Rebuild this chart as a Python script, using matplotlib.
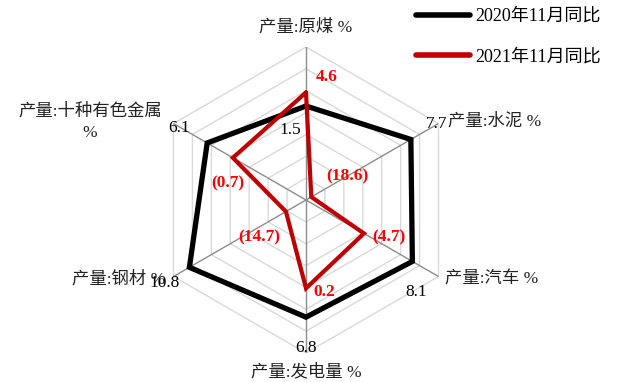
import matplotlib
matplotlib.use("Agg")
import matplotlib.pyplot as plt
import numpy as np

# ---- data (YoY growth, %)
categories = ["产量:原煤 %", "产量:水泥 %", "产量:汽车 %", "产量:发电量 %",
              "产量:钢材 %", "产量:十种有色金属\n%"]
yoy_2020 = [1.5, 7.7, 8.1, 6.8, 10.8, 6.1]
yoy_2021 = [4.6, -18.6, -4.7, 0.2, -14.7, -0.7]
series_names = ["2020年11月同比", "2021年11月同比"]
r_min, r_max, r_step = -20, 15, 5

FONT = ["Liberation Serif", "Noto Sans CJK SC"]
BLACK = "#000000"
RED_LINE = "#C00000"
RED_TEXT = "#FF0000"

W, H = 617, 382
fig = plt.figure(figsize=(W / 100, H / 100), dpi=100)
cx, cy, R = 306, 200, 153
ax = fig.add_axes([(cx - R) / W, (H - cy - R) / H, 2 * R / W, 2 * R / H], projection="polar")
ax.set_theta_zero_location("N")
ax.set_theta_direction(-1)
ax.set_ylim(r_min, r_max)
ax.grid(False)
ax.set_xticks([])
ax.set_yticks([])
ax.spines["polar"].set_visible(False)
ax.patch.set_visible(False)

n = len(categories)
angles = np.arange(n) * 2 * np.pi / n
closed = np.append(angles, angles[0])

# ---- hexagon grid + spokes
for v in range(r_min + r_step, r_max + 1, r_step):
    ax.plot(closed, [v] * (n + 1), color="#d9d9d9", lw=1.0, zorder=1)
for a in angles:
    ax.plot([a, a], [r_min, r_max], color="#8c8c8c", lw=1.0, zorder=2)

# ---- series
def close(vals):
    return list(vals) + [vals[0]]

l1, = ax.plot(closed, close(yoy_2020), color=BLACK, lw=3.8, zorder=3,
              solid_joinstyle="miter", solid_capstyle="round", label=series_names[0])
l2, = ax.plot(closed, close(yoy_2021), color=RED_LINE, lw=3.0, zorder=4,
              solid_joinstyle="miter", solid_capstyle="round", label=series_names[1])

def fmt(v):
    return f"({abs(v):.1f})" if v < 0 else f"{v:.1f}"

# label offsets in points relative to each point
off_2020 = [(-11.5, -17.3), (18.8, 11.2), (2.6, -22.0), (0, -22.2), (-18.0, -11.3), (-20.3, 10.8)]
off_2021 = [(15.1, 11.2), (25.7, 15.1), (18.1, -3.2), (13.0, -2.7), (-19.4, -18.3), (-3.5, -18.1)]

for a, v, o in zip(angles, yoy_2020, off_2020):
    ax.annotate(fmt(v), (a, v), xytext=o, textcoords="offset points", ha="center", va="center",
                fontsize=12.5, family=FONT, color=BLACK, annotation_clip=False, zorder=6)
for a, v, o in zip(angles, yoy_2021, off_2021):
    ax.annotate(fmt(v), (a, v), xytext=o, textcoords="offset points", ha="center", va="center",
                fontsize=12.5, family=FONT, color=RED_TEXT, fontweight="bold",
                annotation_clip=False, zorder=6)

# ---- category labels
cat_pos = [((0, 14.4), "center"), ((6.5, 1.5), "left"), ((5.0, -2.0), "left"),
           ((0, -13.7), "center"), ((-6.0, -2.0), "right"), ((-60.0, 1.0), "center")]
for a, lab, (o, ha) in zip(angles, categories, cat_pos):
    ax.annotate(lab, (a, r_max), xytext=o, textcoords="offset points", ha=ha, va="center",
                fontsize=12.5, family=FONT, color="#222222", annotation_clip=False,
                linespacing=1.45, zorder=5)

# ---- legend
fig.legend(handles=[l1, l2], loc="upper left", bbox_to_anchor=(416 / W, 1 - 8 / H),
           frameon=False, prop={"family": FONT, "size": 13}, handlelength=3.0,
           handletextpad=0.3, labelspacing=1.3, borderpad=0, borderaxespad=0)
for h in fig.legends[0].legend_handles:
    h.set_linewidth(4.0)

fig.savefig("out.png", dpi=100)
